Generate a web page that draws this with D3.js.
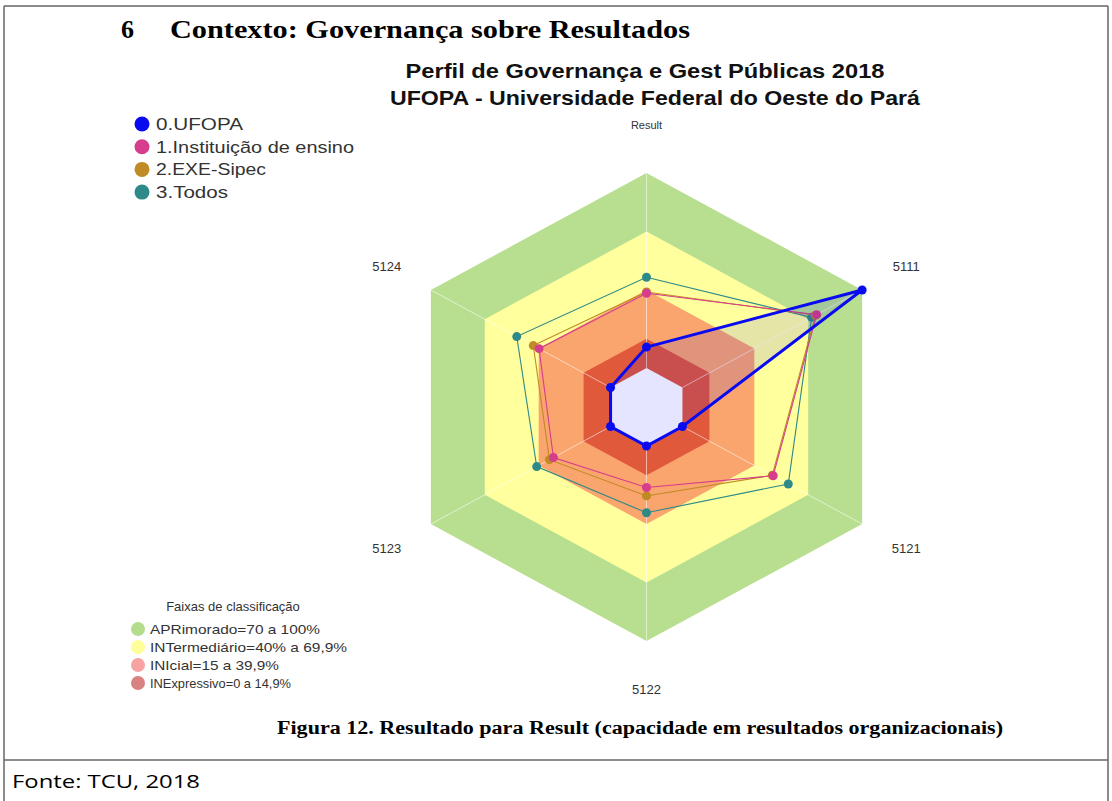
<!DOCTYPE html>
<html>
<head>
<meta charset="utf-8">
<script src="https://cdn.jsdelivr.net/npm/d3@7"></script>
<style>
  body { margin: 0; background: #fff; }
  svg { display: block; }
</style>
</head>
<body>
<div id="chart"></div>
<script>
// axes, clockwise from the top
const axes = ["Result", "5111", "5121", "5122", "5123", "5124"];

const seriesNames = ["0.UFOPA", "1.Instituição de ensino", "2.EXE-Sipec", "3.Todos"];
const seriesColors = ["#0a0af0", "#d63d8c", "#c08a24", "#2e8a88"];

const ufopa = [10.7, 100, 0, 0, 0, 0];
const instituicao = [38.3, 74.7, 50.5, 21.3, 31.8, 39.8];
const exeSipec = [39, 74, 50, 25.6, 34, 43];
const todos = [46.5, 71.9, 58.9, 34.2, 41.1, 52.2];

const bandNames = ["APRimorado=70 a 100%", "INTermediário=40% a 69,9%", "INIcial=15 a 39,9%", "INExpressivo=0 a 14,9%"];
const bandLimits = [100, 70, 40, 15];
const bandColors = ["#b8df8f", "#ffff9e", "#faa56d", "#e0593b"];
const bandLegendColors = ["#b3dc8c", "#ffff99", "#f7a3a3", "#d98282"];

const W = 1112, H = 801;
const svg = d3.select("#chart").append("svg")
    .attr("width", W)
    .attr("height", H);

// page frame
const frame = svg.append("g").attr("stroke", "#666").attr("stroke-width", 1.5);
frame.append("line").attr("x1", 4).attr("x2", 1108).attr("y1", 6).attr("y2", 6);
frame.append("line").attr("x1", 4).attr("x2", 4).attr("y1", 6).attr("y2", H);
frame.append("line").attr("x1", 1108).attr("x2", 1108).attr("y1", 6).attr("y2", H);
frame.append("line").attr("x1", 4).attr("x2", 1108).attr("y1", 760).attr("y2", 760);

// heading
svg.append("text")
    .attr("x", 121).attr("y", 38)
    .attr("font-family", "Liberation Serif, serif")
    .attr("font-weight", "bold").attr("font-size", 26)
    .text("6");
svg.append("text")
    .attr("x", 170).attr("y", 38)
    .attr("font-family", "Liberation Serif, serif")
    .attr("font-weight", "bold").attr("font-size", 26)
    .attr("textLength", 520).attr("lengthAdjust", "spacingAndGlyphs")
    .text("Contexto: Governança sobre Resultados");

// chart titles
svg.append("text")
    .attr("x", 645).attr("y", 78)
    .attr("text-anchor", "middle")
    .attr("font-family", "Liberation Sans, Arial, sans-serif")
    .attr("font-weight", "bold").attr("font-size", 20).attr("fill", "#111")
    .attr("textLength", 479).attr("lengthAdjust", "spacingAndGlyphs")
    .text("Perfil de Governança e Gest Públicas 2018");
svg.append("text")
    .attr("x", 655).attr("y", 105)
    .attr("text-anchor", "middle")
    .attr("font-family", "Liberation Sans, Arial, sans-serif")
    .attr("font-weight", "bold").attr("font-size", 20).attr("fill", "#111")
    .attr("textLength", 530).attr("lengthAdjust", "spacingAndGlyphs")
    .text("UFOPA - Universidade Federal do Oeste do Pará");

// radar geometry
const cx = 646.5, cy = 407;
const ky = 0.94; // picture is slightly squashed vertically
const r = d3.scaleLinear().domain([0, 100]).range([41.5, 249]);
const angle = d3.scalePoint().domain(axes).range([0, 360 * 5 / 6]);

function pt(axis, v, rad) {
    const a = angle(axis) * Math.PI / 180;
    const rr = rad !== undefined ? rad : r(v);
    return [cx + rr * Math.sin(a), cy - rr * Math.cos(a) * ky];
}

const line = d3.line().curve(d3.curveLinearClosed);

// classification bands
const radar = svg.append("g");
bandLimits.forEach((lim, i) => {
    radar.append("path")
        .attr("d", line(axes.map(a => pt(a, lim))))
        .attr("fill", bandColors[i]);
});
radar.append("path")
    .attr("d", line(axes.map(a => pt(a, 0))))
    .attr("fill", "#ffffff");

// spokes
axes.forEach(a => {
    const p0 = pt(a, 0), p1 = pt(a, 100);
    radar.append("line")
        .attr("x1", p0[0]).attr("y1", p0[1])
        .attr("x2", p1[0]).attr("y2", p1[1])
        .attr("stroke", "#fff").attr("stroke-opacity", 0.55).attr("stroke-width", 1);
});

// series, drawn back to front
const seriesData = [ufopa, instituicao, exeSipec, todos];
[3, 2, 1, 0].forEach(i => {
    const pts = axes.map((a, j) => pt(a, seriesData[i][j]));
    const isMain = i === 0;
    const g = radar.append("g");
    g.append("path")
        .attr("d", line(pts))
        .attr("fill", isMain ? "rgba(0,0,255,0.1)" : "none")
        .attr("stroke", seriesColors[i])
        .attr("stroke-width", isMain ? 3 : 1.1);
    g.selectAll("circle")
        .data(pts)
        .enter()
        .append("circle")
        .attr("cx", d => d[0])
        .attr("cy", d => d[1])
        .attr("r", 4.5)
        .attr("fill", seriesColors[i]);
});

// axis labels
axes.forEach(a => {
    const p = pt(a, 0, 300);
    svg.append("text")
        .attr("x", p[0]).attr("y", p[1])
        .attr("dy", "0.35em")
        .attr("text-anchor", "middle")
        .attr("font-family", "Liberation Sans, Arial, sans-serif")
        .attr("font-size", a === "Result" ? 11 : 13)
        .attr("fill", "#333")
        .text(a);
});

// series legend
const leg = svg.append("g").attr("font-family", "Liberation Sans, Arial, sans-serif");
const legWidths = [87, 198, 110, 72];
seriesNames.forEach((name, i) => {
    const y = 124 + i * 22.7;
    leg.append("circle").attr("cx", 142).attr("cy", y).attr("r", 7.5).attr("fill", seriesColors[i]);
    leg.append("text")
        .attr("x", 156).attr("y", y + 6)
        .attr("font-size", 16.5).attr("fill", "#333")
        .attr("textLength", legWidths[i]).attr("lengthAdjust", "spacingAndGlyphs")
        .text(name);
});

// band legend
const bleg = svg.append("g").attr("font-family", "Liberation Sans, Arial, sans-serif");
bleg.append("text")
    .attr("x", 233).attr("y", 611)
    .attr("text-anchor", "middle")
    .attr("font-size", 13).attr("fill", "#333")
    .text("Faixas de classificação");
const bandWidths = [170, 197, 129, 141];
bandNames.forEach((name, i) => {
    const y = 629 + i * 18;
    bleg.append("circle").attr("cx", 138).attr("cy", y).attr("r", 7).attr("fill", bandLegendColors[i]);
    bleg.append("text")
        .attr("x", 150).attr("y", y + 5)
        .attr("font-size", 13.5).attr("fill", "#333")
        .attr("textLength", bandWidths[i]).attr("lengthAdjust", "spacingAndGlyphs")
        .text(name);
});

// caption
svg.append("text")
    .attr("x", 277).attr("y", 734)
    .attr("font-family", "Liberation Serif, serif")
    .attr("font-weight", "bold").attr("font-size", 18)
    .attr("textLength", 726).attr("lengthAdjust", "spacingAndGlyphs")
    .text("Figura 12. Resultado para Result (capacidade em resultados organizacionais)");

// source
svg.append("text")
    .attr("x", 12).attr("y", 788)
    .attr("font-family", "Open Sans, Liberation Sans, sans-serif")
    .attr("font-size", 19)
    .attr("textLength", 188).attr("lengthAdjust", "spacingAndGlyphs")
    .text("Fonte: TCU, 2018");
</script>
</body>
</html>
